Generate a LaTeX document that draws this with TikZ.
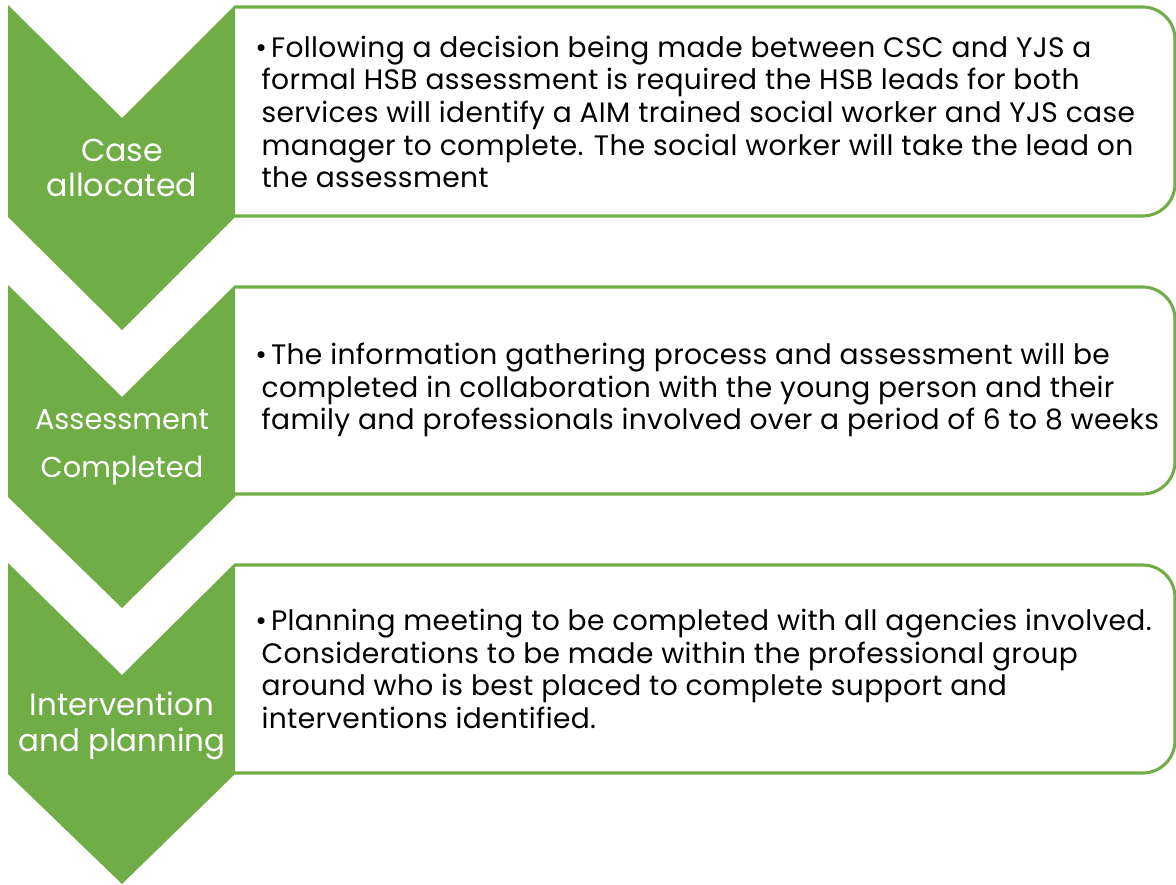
\documentclass[tikz,border=0pt]{standalone}
\usepackage{fontspec}
\setmainfont{Poppins}
\newfontfamily\boxfont[LetterSpace=1.2]{Poppins}
\usetikzlibrary{positioning}
\definecolor{stepgreen}{HTML}{70AD47}
\newcommand{\ind}{\hspace*{4.5pt}}

\begin{document}
\begin{tikzpicture}[x=0.025cm, y=0.025cm,
    chevron/.style={fill=stepgreen},
    boxline/.style={draw=stepgreen, line width=2.2pt, rounded corners=23pt},
    steplabel/.style={text=white, align=center, inner sep=0pt},
    infotext/.style={anchor=west, align=left, inner sep=0pt, font=\boxfont\fontsize{20}{23.2}\selectfont}]
    \useasboundingbox (0,0) rectangle (1176,-884);

    % boxes (left side is the chevron edge)
    \draw[boxline] (235,-7) -- (1175,-7) -- (1175,-216) -- (235,-216);
    \draw[boxline] (235,-287) -- (1175,-287) -- (1175,-494) -- (235,-494);
    \draw[boxline] (235,-565) -- (1175,-565) -- (1175,-773) -- (235,-773);

    % chevrons
    \fill[chevron] (8,-5) -- (122,-118) -- (235,-5) -- (235,-217) -- (122,-330) -- (8,-217) -- cycle;
    \fill[chevron] (8,-285) -- (122,-397) -- (235,-285) -- (235,-497) -- (122,-608) -- (8,-497) -- cycle;
    \fill[chevron] (8,-563) -- (122,-675) -- (235,-563) -- (235,-774) -- (122,-884) -- (8,-774) -- cycle;

    \node[steplabel, font=\fontsize{22.5}{25}\selectfont] (case) at (122,-168) {Case\\allocated};
    \node[steplabel, font=\fontsize{20.5}{34}\selectfont] (assess) at (122,-447) {Assessment\\Completed};
    \node[steplabel, font=\fontsize{22}{25.6}\selectfont] (interv) at (122,-726) {Intervention\\and planning};

    \node[infotext] (info1) at (255,-112) {•\hspace{3pt}Following a decision being made between CSC and YJS a\\
        \ind formal HSB assessment is required the HSB leads for both\\
        \ind services will identify a AIM trained social worker and YJS case\\
        \ind manager to complete. The social worker will take the lead on\\
        \ind the assessment};
    \node[infotext] (info2) at (255,-390) {•\hspace{3pt}The information gathering process and assessment will be\\
        \ind completed in collaboration with the young person and their\\
        \ind family and professionals involved over a period of 6 to 8 weeks};
    \node[infotext] (info3) at (255,-669) {•\hspace{3pt}Planning meeting to be completed with all agencies involved.\\
        \ind Considerations to be made within the professional group\\
        \ind around who is best placed to complete support and\\
        \ind interventions identified.};
\end{tikzpicture}
\end{document}
